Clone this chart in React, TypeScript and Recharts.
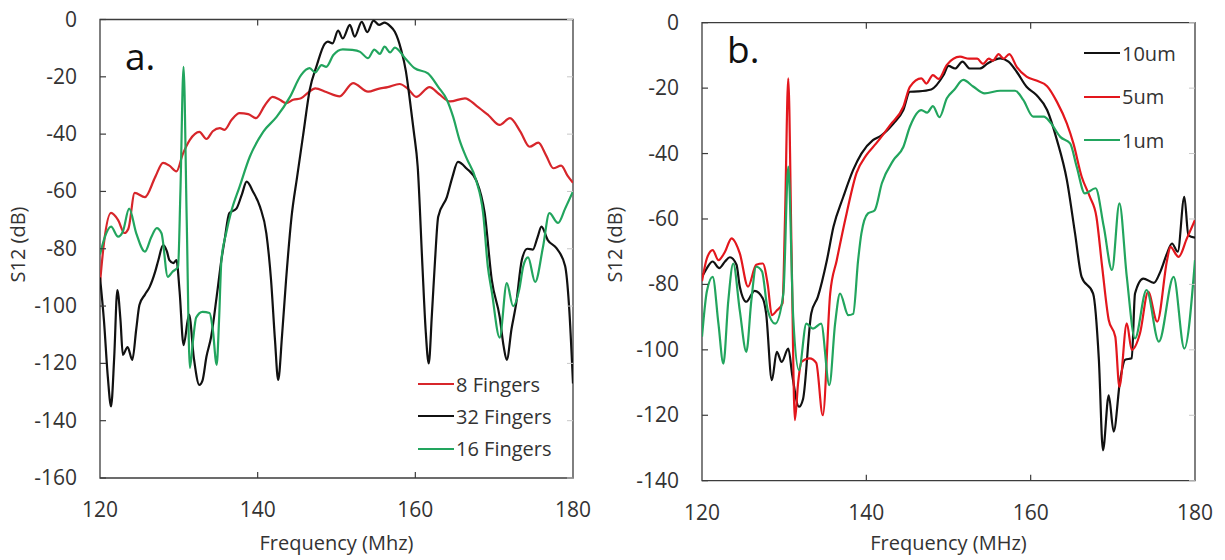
import React from 'react';
import { LineChart, Line, XAxis, YAxis, ReferenceArea } from 'recharts';

// S12 response vs frequency, (f MHz, dB) pairs
const FREQ_TICKS = [120, 140, 160, 180];
const DB_TICKS_A = [0, -20, -40, -60, -80, -100, -120, -140, -160];
const DB_TICKS_B = [0, -20, -40, -60, -80, -100, -120, -140];

const fingers8: [number, number][] = [
  [120, -92], [120.5, -78], [121.4, -67.5], [122.3, -70], [123.1, -74.5], [123.6, -73], [124.4, -60.5],
  [125.7, -62], [127, -55], [128, -50], [128.8, -51], [129.7, -53], [130.5, -47], [131.4, -42],
  [132.6, -39.2], [133.5, -41.7], [134.3, -39], [135.2, -37.9], [135.8, -38.5], [136.7, -35], [137.7, -32.7],
  [138.8, -33], [139.8, -34.4], [140.9, -30], [141.9, -27], [142.8, -28], [143.6, -29.2], [144.5, -28],
  [145.5, -27.5], [146.4, -25.5], [147.3, -24], [148.7, -25.3], [150.4, -26.8], [152.1, -22.2], [154, -25.2],
  [155.3, -24.2], [156.5, -23.6], [158, -22.5], [159, -24], [160.1, -27], [161.8, -23.6], [163, -26],
  [164.4, -28.6], [166.3, -27.5], [167.8, -30.2], [169.3, -33.5], [170.7, -36.8], [172, -34.4], [173.3, -39],
  [174.5, -44.4], [175.6, -43], [176.6, -47.5], [177.5, -51.9], [178.5, -51], [179.3, -54.5], [180, -57],
];

const fingers32: [number, number][] = [
  [120, -90], [120.5, -105], [121, -125], [121.4, -135], [121.8, -118], [122.2, -94.4], [122.6, -105],
  [122.9, -117], [123.5, -114.3], [124.1, -118.8], [124.6, -108], [125, -99.6], [125.7, -96], [126.3, -93.3],
  [127, -88], [127.4, -84], [128, -78.7], [128.5, -81], [128.8, -84], [129.3, -85], [129.7, -84],
  [130.1, -95], [130.6, -113.6], [131.3, -103], [131.9, -118], [132.6, -127.5], [133, -126], [133.5, -117.7],
  [134.1, -110.7], [134.8, -96.7], [135.4, -83.9], [135.8, -77], [136.4, -67.6], [137.3, -66], [138, -61],
  [138.6, -56.6], [139.4, -60], [140.3, -65.4], [141.1, -74.6], [141.7, -91], [142.2, -112], [142.6, -125.8],
  [143.1, -110], [143.6, -91], [144.3, -68.8], [145, -55], [145.8, -39.7], [146.6, -24.6], [147.5, -16],
  [148.5, -8.5], [148.9, -7.7], [149.5, -8.3], [150.2, -3.9], [150.8, -6.6], [151.7, -1.9], [152.3, -6],
  [153.2, -0.8], [153.9, -4.4], [154.7, -0.4], [155.4, -1.9], [156.1, -1.1], [156.8, -2.3], [157.4, -4.3],
  [158.2, -10.6], [158.8, -18], [159.3, -28], [159.8, -39], [160.3, -51.4], [160.9, -86], [161.3, -108],
  [161.7, -120], [162.1, -103], [162.5, -84], [162.9, -68.8], [164, -62], [164.7, -55], [165.4, -49.7],
  [166.5, -52], [167.8, -56.6], [168.8, -67.6], [169.7, -91], [170.7, -103.8], [171.2, -114], [171.6, -118.8],
  [172.2, -108], [172.8, -99], [173.5, -84], [174.2, -80], [174.9, -80.3], [175.5, -76], [176, -72.3],
  [176.8, -77], [177.9, -79.8], [179, -86], [179.5, -100], [180, -127],
];

const fingers16: [number, number][] = [
  [120, -82], [120.6, -76], [121.4, -72.3], [122.3, -75.8], [122.9, -74], [123.7, -66], [124.6, -74.6],
  [125.7, -81], [126.5, -76], [127.2, -72.8], [127.8, -74.6], [128.6, -89.8], [129.2, -88], [129.9, -86.3],
  [130.2, -60], [130.6, -16.5], [131, -70], [131.4, -121.6], [131.8, -112], [132.2, -104], [133, -102],
  [133.9, -102.4], [134.3, -108], [134.8, -120.5], [135.1, -105], [135.4, -84], [136, -74.6], [136.7, -66.5],
  [137.7, -58.4], [139, -47.9], [140.7, -39.2], [142.4, -34], [144.1, -27], [145.5, -19.4], [146.6, -17],
  [147.3, -18.5], [148.1, -15.9], [148.7, -16.5], [149.6, -12.4], [150.8, -10.4], [152, -10.6], [153, -11.3],
  [154, -13.5], [154.8, -10.5], [155.5, -12], [156.1, -9.5], [156.8, -11.5], [157.4, -9.8], [158.7, -13.5],
  [159.9, -17], [161.6, -18.8], [162.9, -23.5], [164, -28], [164.8, -34], [165.6, -42], [166.5, -48.4],
  [167.7, -56], [168.6, -67.6], [169.2, -86.3], [169.7, -95], [170.7, -111], [171.6, -92], [172.4, -100],
  [173.2, -94], [173.7, -86], [174.3, -83], [175.2, -91.6], [176.2, -79.3], [177, -67.6], [178.1, -71],
  [179, -66], [180, -60],
];

const width10um: [number, number][] = [
  [120, -77.7], [120.6, -75], [121.3, -73], [122.1, -75], [122.8, -73], [123.4, -71.7], [124.2, -74],
  [124.6, -80.7], [125.4, -85.3], [126.4, -82], [127.4, -84.3], [127.8, -88.8], [128.5, -109.3], [129.1, -100.6],
  [129.7, -103.7], [130.5, -99.6], [131, -108], [131.8, -117.4], [132.3, -115], [133.3, -88.8], [134.1, -83.8],
  [135.2, -72.6], [136, -62.4], [137.2, -53.2], [138.4, -45], [139.4, -40], [140.8, -35.9], [141.8, -34.5],
  [143.3, -30.8], [144.5, -26.7], [145.3, -21.1], [146.3, -21], [147.9, -20.4], [149.4, -16], [150, -13.2],
  [150.8, -14], [151.7, -11.9], [152.6, -14], [153.8, -14], [154.8, -12.4], [156.3, -10.9], [157.3, -11.9],
  [158.3, -15], [159.5, -19.6], [160.7, -22.1], [162, -26.7], [163.2, -35.9], [164.4, -48], [165.4, -64.4],
  [166.2, -77.7], [167.6, -82.8], [168.3, -103], [168.8, -130.7], [169.5, -113.9], [170.1, -125], [170.9, -109],
  [171.5, -103], [172.3, -102.6], [172.7, -82.8], [173.7, -78.2], [175, -79.5], [175.8, -76], [176.6, -70.5],
  [177.2, -67.5], [177.9, -70], [178.7, -53.2], [179.2, -65], [180, -65.7],
];

const width5um: [number, number][] = [
  [120, -79], [120.6, -72], [121.3, -69.5], [122, -72.6], [122.8, -70], [123.6, -65.9], [124.6, -70.5],
  [125.6, -80.7], [126.6, -74], [127.4, -73.6], [128, -80], [128.5, -89.4], [129.1, -88], [129.8, -85.8],
  [130.1, -60], [130.5, -17], [130.9, -70], [131.3, -121.5], [131.7, -110], [132.1, -103.7], [133.1, -102.6],
  [133.9, -104], [134.7, -120], [135.6, -82.8], [136.4, -72.6], [137.6, -58.3], [138.8, -46], [140, -40.5],
  [141.2, -36.9], [142.9, -31.3], [144.5, -25.7], [145.3, -19.6], [146.7, -17], [147.3, -18.6], [148.1, -16],
  [148.8, -17.2], [149.8, -12.9], [151.4, -10.4], [152.5, -11], [153.5, -11], [154.2, -12.6], [154.9, -11],
  [155.4, -11.6], [156.1, -9.6], [156.7, -11], [157.4, -9.6], [158.3, -13.5], [159.5, -16.5], [160.7, -17.7],
  [162, -19.4], [163.2, -24.2], [164.4, -30.8], [165.2, -36.9], [166.2, -47], [167.2, -53.2], [168, -59.3],
  [168.7, -74.6], [169.5, -90.9], [170.3, -96], [170.8, -111.3], [171.7, -91.9], [172.3, -100], [173.3, -95],
  [174.3, -82.3], [175.4, -91.4], [176.6, -72.6], [177, -68.5], [178, -71.6], [179, -66], [180, -60.3],
];

const width1um: [number, number][] = [
  [120, -96], [120.6, -82], [121.3, -77.7], [122, -92], [122.6, -104.2], [123.2, -85], [123.8, -73.6],
  [124.6, -88], [125.4, -100.6], [126, -85], [126.6, -74.6], [127.3, -76], [128, -87.9], [128.9, -92],
  [129.9, -82.8], [130.5, -44], [131.1, -90], [131.8, -106.2], [132.7, -92], [133.5, -93.5], [134.5, -92],
  [135.5, -110.8], [136.2, -92], [136.8, -82.8], [137.8, -89.4], [138.4, -89], [139, -72.6], [139.4, -64.4],
  [140.2, -58.3], [141, -57.4], [141.9, -49], [143.3, -42], [144.5, -38], [145.3, -31.8], [146.7, -26.7],
  [147.4, -27.5], [148.1, -25.5], [148.9, -28.9], [149.8, -23.1], [150.7, -20.5], [151.8, -17.5], [153, -19.5],
  [154.4, -21.6], [156.3, -20.8], [158.1, -20.8], [159.1, -23.6], [160.3, -28.7], [161.6, -28.7], [162.4, -30.5],
  [163.6, -34.9], [164.8, -36.9], [165.6, -44], [166.6, -52.2], [167.9, -50.6], [168.9, -62.4], [169.9, -75.6],
  [170.8, -55.2], [171.7, -77.7], [172.7, -96.5], [174.1, -81.7], [175.6, -97.5], [177.4, -77.7], [178.7, -99.6],
  [180, -72.6],
];

const FONT = '"Open Sans", sans-serif';
const TEXT = '#333';
const FRAME = '#3c3c3c';

type Series = { name: string; color: string; points: [number, number][] };

const seriesA: Series[] = [
  { name: '8 Fingers', color: '#d7262b', points: fingers8 },
  { name: '32 Fingers', color: '#111111', points: fingers32 },
  { name: '16 Fingers', color: '#22a55e', points: fingers16 },
];

const seriesB: Series[] = [
  { name: '10um', color: '#111111', points: width10um },
  { name: '5um', color: '#e3171d', points: width5um },
  { name: '1um', color: '#22a55e', points: width1um },
];

const toRows = (pts: [number, number][]) => pts.map(([f, s]) => ({ f, s }));

interface PanelProps {
  left: number;
  width: number;
  margin: { top: number; right: number; bottom: number; left: number };
  yDomain: [number, number];
  yTicks: number[];
  series: Series[];
  letter: string;
  letterPos: { x: number; y: number };
  xTitle: string;
  legend: { x: number; y: number; gap: number };
  yTitleX: number;
}

const H = 560;
const Y_AXIS_W = 60;
const X_AXIS_H = 60;

function Panel(p: PanelProps) {
  const plotL = p.margin.left + Y_AXIS_W;
  const plotR = p.width - p.margin.right;
  const plotT = p.margin.top;
  const plotB = H - p.margin.bottom - X_AXIS_H;

  const xTick = (props: any) => {
    const { x, payload } = props;
    const inner = payload.value !== 120 && payload.value !== 180;
    return (
      <g>
        {inner && <line x1={x} x2={x} y1={plotB} y2={plotB - 6} stroke={FRAME} strokeWidth={1.2} />}
        {inner && <line x1={x} x2={x} y1={plotT} y2={plotT + 6} stroke={FRAME} strokeWidth={1.2} />}
        <text x={x} y={plotB + 39} textAnchor="middle" fontSize={21} fill={TEXT} fontFamily={FONT}>
          {payload.value}
        </text>
      </g>
    );
  };

  const yTick = (props: any) => {
    const { y, payload } = props;
    return (
      <g>
        <line x1={plotL} x2={plotL + 6} y1={y} y2={y} stroke={FRAME} strokeWidth={1.2} />
        <line x1={plotR} x2={plotR - 6} y1={y} y2={y} stroke="#c8c8c8" strokeWidth={1} />
        <text x={plotL - 23} y={y + 7} textAnchor="end" fontSize={21} fill={TEXT} fontFamily={FONT}>
          {payload.value}
        </text>
      </g>
    );
  };

  return (
    <div style={{ position: 'absolute', left: p.left, top: 0, width: p.width, height: H }}>
      <LineChart width={p.width} height={H} margin={p.margin}>
        <XAxis
          dataKey="f"
          type="number"
          domain={[120, 180]}
          ticks={FREQ_TICKS}
          allowDataOverflow
          axisLine={false}
          tickLine={false}
          height={X_AXIS_H}
          tick={xTick}
        />
        <YAxis
          type="number"
          domain={p.yDomain}
          ticks={p.yTicks}
          allowDataOverflow
          axisLine={false}
          tickLine={false}
          width={Y_AXIS_W}
          tick={yTick}
        />
        <ReferenceArea
          x1={120}
          x2={180}
          y1={p.yDomain[0]}
          y2={p.yDomain[1]}
          fill="none"
          stroke={FRAME}
          strokeWidth={1.3}
          fillOpacity={0}
        />
        {p.series.map((s) => (
          <Line
            key={s.name}
            data={toRows(s.points)}
            dataKey="s"
            name={s.name}
            type="monotone"
            stroke={s.color}
            strokeWidth={2.2}
            dot={false}
            activeDot={false}
            isAnimationActive={false}
          />
        ))}
      </LineChart>

      <div
        style={{
          position: 'absolute',
          left: p.letterPos.x,
          top: p.letterPos.y,
          fontFamily: FONT,
          fontSize: 37,
          color: '#111',
          lineHeight: 1,
        }}
      >
        {p.letter}
      </div>

      <div
        style={{
          position: 'absolute',
          left: p.yTitleX - 15,
          top: 244 - 15,
          width: 30,
          height: 30,
          display: 'flex',
          alignItems: 'center',
          justifyContent: 'center',
        }}
      >
        <div
          style={{
            transform: 'rotate(-90deg)',
            whiteSpace: 'nowrap',
            fontFamily: FONT,
            fontSize: 20,
            color: TEXT,
          }}
        >
          S12 (dB)
        </div>
      </div>

      <div
        style={{
          position: 'absolute',
          left: plotL,
          width: plotR - plotL,
          top: 530,
          textAlign: 'center',
          fontFamily: FONT,
          fontSize: 20,
          color: TEXT,
          lineHeight: '26px',
        }}
      >
        {p.xTitle}
      </div>

      {p.series.map((s, i) => (
        <div
          key={s.name}
          style={{
            position: 'absolute',
            left: p.legend.x,
            top: p.legend.y + i * p.legend.gap - 14,
            height: 28,
            display: 'flex',
            alignItems: 'center',
            fontFamily: FONT,
            fontSize: 20,
            color: TEXT,
            whiteSpace: 'nowrap',
          }}
        >
          <span style={{ display: 'inline-block', width: 36, height: 2, background: s.color, marginRight: 2 }} />
          {s.name}
        </div>
      ))}
    </div>
  );
}

export default function App() {
  return (
    <div
      style={{
        position: 'absolute',
        left: 0,
        top: 0,
        width: 1225,
        height: H,
        background: '#fff',
        overflow: 'hidden',
      }}
    >
      <Panel
        left={0}
        width={600}
        margin={{ top: 19.5, right: 27, bottom: 22, left: 40 }}
        yDomain={[-160, 0]}
        yTicks={DB_TICKS_A}
        series={seriesA}
        letter="a."
        letterPos={{ x: 125, y: 37 }}
        xTitle="Frequency (Mhz)"
        legend={{ x: 418, y: 384, gap: 32.3 }}
        yTitleX={17}
      />
      <Panel
        left={600}
        width={625}
        margin={{ top: 22.7, right: 30, bottom: 19.3, left: 42 }}
        yDomain={[-140, 0]}
        yTicks={DB_TICKS_B}
        series={seriesB}
        letter="b."
        letterPos={{ x: 127, y: 30 }}
        xTitle="Frequency (MHz)"
        legend={{ x: 484, y: 53, gap: 43.6 }}
        yTitleX={14}
      />
    </div>
  );
}
